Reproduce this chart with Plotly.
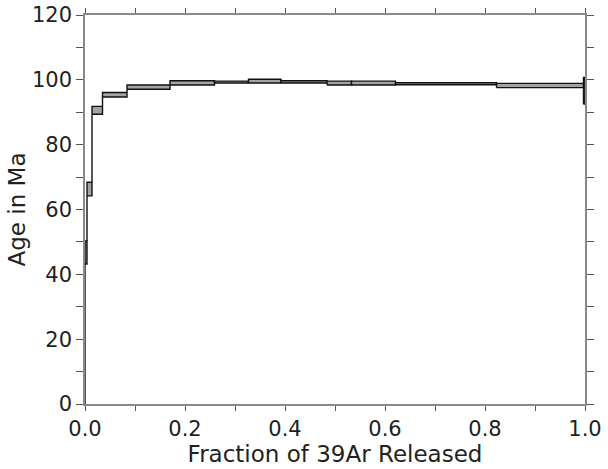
import plotly.graph_objects as go

# Cumulative fraction of 39Ar released at step boundaries
step_bounds = [0.0, 0.004, 0.014, 0.035, 0.084, 0.170, 0.259, 0.327,
               0.392, 0.484, 0.533, 0.621, 0.823, 0.997, 1.0]
# Apparent age (Ma) of each step and its half-width (1 sigma box)
step_age = [46.75, 66.3, 90.6, 95.4, 97.75, 99.05, 99.3, 99.6,
            99.35, 99.0, 99.0, 98.8, 98.25, 96.6]
step_err = [3.55, 2.1, 1.2, 0.7, 0.65, 0.65, 0.3, 0.6,
            0.35, 0.6, 0.6, 0.3, 0.65, 4.1]
start_age = 0.0

x_tick_vals = [0.0, 0.1, 0.2, 0.3, 0.4, 0.5, 0.6, 0.7, 0.8, 0.9, 1.0]
x_tick_text = ["0.0", "", "0.2", "", "0.4", "", "0.6", "", "0.8", "", "1.0"]
y_tick_vals = [0, 10, 20, 30, 40, 50, 60, 70, 80, 90, 100, 110, 120]
y_tick_text = ["0", "", "20", "", "40", "", "60", "", "80", "", "100", "", "120"]

FONT = "DejaVu Sans"
TEXT = "#231f20"
AXIS = "#8a8a8a"

fig = go.Figure()

# connecting vertical segments between successive boxes
cx, cy = [], []
lo0 = step_age[0] - step_err[0]
cx += [step_bounds[0], step_bounds[0], None]
cy += [start_age, lo0, None]
for i in range(len(step_age) - 1):
    xb = step_bounds[i + 1]
    top_i = step_age[i] + step_err[i]
    bot_i = step_age[i] - step_err[i]
    top_n = step_age[i + 1] + step_err[i + 1]
    bot_n = step_age[i + 1] - step_err[i + 1]
    if top_i < bot_n:
        cx += [xb, xb, None]
        cy += [top_i, bot_n, None]
    elif bot_i > top_n:
        cx += [xb, xb, None]
        cy += [bot_i, top_n, None]
fig.add_trace(go.Scatter(x=cx, y=cy, mode="lines",
                         line=dict(color="#111111", width=1.4),
                         hoverinfo="skip", showlegend=False))

# step boxes
for i in range(len(step_age)):
    x0, x1 = step_bounds[i], step_bounds[i + 1]
    lo = step_age[i] - step_err[i]
    hi = step_age[i] + step_err[i]
    fig.add_trace(go.Scatter(
        x=[x0, x1, x1, x0, x0], y=[lo, lo, hi, hi, lo],
        mode="lines", fill="toself", fillcolor="#a3a3a3",
        line=dict(color="#111111", width=1.4),
        hoverinfo="skip", showlegend=False))

axis_common = dict(
    showline=True, linecolor=AXIS, linewidth=1.5, mirror="ticks",
    ticks="outside", tickcolor="#555555", tickwidth=1.2,
    showgrid=False, zeroline=False,
    tickfont=dict(family=FONT, size=21, color=TEXT),
)

fig.update_xaxes(
    range=[0, 1], tickmode="array", tickvals=x_tick_vals, ticktext=x_tick_text,
    ticklen=5,
    title=dict(text="Fraction of 39Ar Released",
               font=dict(family=FONT, size=23, color=TEXT), standoff=1),
    **axis_common)
fig.update_yaxes(
    range=[0, 120], tickmode="array", tickvals=y_tick_vals, ticktext=y_tick_text,
    ticklen=7,
    title=dict(text="Age in Ma",
               font=dict(family=FONT, size=23, color=TEXT), standoff=0),
    **axis_common)

fig.update_layout(
    width=608, height=469,
    margin=dict(l=85, r=23, t=15, b=65, autoexpand=False),
    paper_bgcolor="white", plot_bgcolor="white",
    showlegend=False,
)

fig.write_html("out.html")
